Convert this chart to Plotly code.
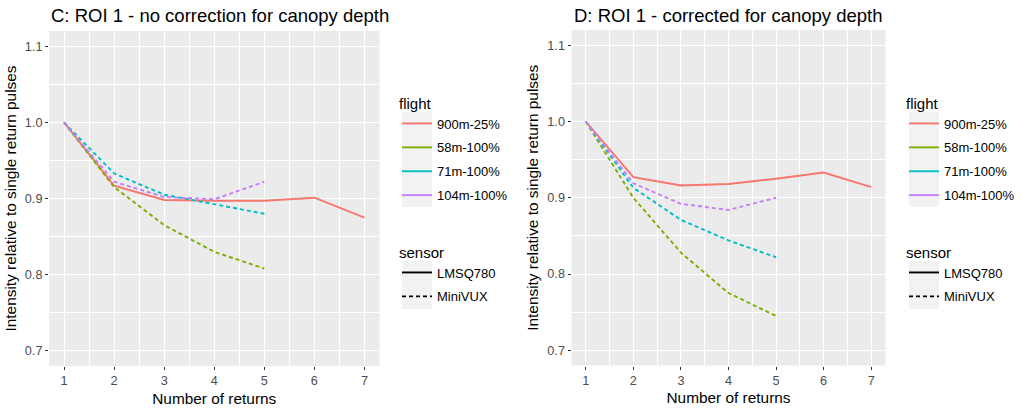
import plotly.graph_objects as go

W, H = 1023, 409

returns_c = [1, 2, 3, 4, 5, 6, 7]
returns_mv = [1, 2, 3, 4, 5]

flights = ["900m-25%", "58m-100%", "71m-100%", "104m-100%"]
sensors = ["LMSQ780", "MiniVUX", "MiniVUX", "MiniVUX"]
sensor_names = ["LMSQ780", "MiniVUX"]
colors = ["#F8766D", "#7CAE00", "#00BFC4", "#C77CFF"]

# Panel C: no correction for canopy depth
c_900 = [1.000, 0.917, 0.898, 0.897, 0.897, 0.901, 0.875]
c_58 = [1.000, 0.915, 0.865, 0.830, 0.808]
c_71 = [1.000, 0.933, 0.905, 0.893, 0.880]
c_104 = [1.000, 0.922, 0.902, 0.899, 0.922]

# Panel D: corrected for canopy depth
d_900 = [1.000, 0.927, 0.916, 0.918, 0.925, 0.933, 0.914]
d_58 = [1.000, 0.900, 0.828, 0.775, 0.745]
d_71 = [1.000, 0.913, 0.871, 0.844, 0.822]
d_104 = [1.000, 0.919, 0.892, 0.884, 0.900]

titles = ["C: ROI 1 - no correction for canopy depth", "D: ROI 1 - corrected for canopy depth"]
x_title = "Number of returns"
y_title = "Intensity relative to single return pulses"
y_ticks = [0.7, 0.8, 0.9, 1.0, 1.1]
y_minor = [0.75, 0.85, 0.95, 1.05]
x_ticks = [1, 2, 3, 4, 5, 6, 7]
x_minor = [1.5, 2.5, 3.5, 4.5, 5.5, 6.5]

FONT = "Liberation Sans, Arial, sans-serif"
DASH = "4px,3px"
LW = 1.9

panels = [
    dict(series=[(returns_c, c_900), (returns_mv, c_58), (returns_mv, c_71), (returns_mv, c_104)],
         px=(49, 379.5), py=(31, 366), legx=397, legs=("legend", "legend2")),
    dict(series=[(returns_c, d_900), (returns_mv, d_58), (returns_mv, d_71), (returns_mv, d_104)],
         px=(571.5, 885.5), py=(30, 365.5), legx=904, legs=("legend3", "legend4")),
]

fig = go.Figure()
layout = dict(
    width=W, height=H, margin=dict(l=0, r=0, t=0, b=0),
    paper_bgcolor="white", plot_bgcolor="#EBEBEB",
    font=dict(family=FONT, color="black"),
    showlegend=True, annotations=[], shapes=[],
)

for i, p in enumerate(panels):
    sfx = "" if i == 0 else str(i + 1)
    xa, ya = "x" + sfx, "y" + sfx
    for k, (xs, ys) in enumerate(p["series"]):
        fig.add_trace(go.Scatter(
            x=xs, y=ys, mode="lines", xaxis=xa, yaxis=ya, showlegend=False,
            line=dict(color=colors[k], width=LW,
                      dash="solid" if sensors[k] == "LMSQ780" else DASH),
            hoverinfo="x+y", name=flights[k]))
    # legend entries: flight
    for k, f in enumerate(flights):
        fig.add_trace(go.Scatter(
            x=[None], y=[None], mode="lines", xaxis=xa, yaxis=ya,
            name=f, legend=p["legs"][0], legendgroup=f"f{i}{k}",
            line=dict(color=colors[k], width=LW)))
    for k, s in enumerate(sensor_names):
        fig.add_trace(go.Scatter(
            x=[None], y=[None], mode="lines", xaxis=xa, yaxis=ya,
            name=s, legend=p["legs"][1], legendgroup=f"s{i}{k}",
            line=dict(color="black", width=LW, dash="solid" if k == 0 else DASH)))

    x0, x1 = p["px"]
    y0, y1 = p["py"]
    layout["xaxis" + sfx] = dict(
        domain=[x0 / W, x1 / W], range=[0.7, 7.3], anchor=ya,
        tickmode="array", tickvals=x_ticks, ticktext=[str(v) for v in x_ticks],
        showgrid=True, gridcolor="white", gridwidth=1.1, zeroline=False,
        minor=dict(tickvals=x_minor, showgrid=True, gridcolor="white", gridwidth=0.5, ticks=""),
        ticks="outside", ticklen=3, tickwidth=1, tickcolor="#333333",
        tickfont=dict(size=12.7, color="#4D4D4D", family=FONT),
        title=dict(text=x_title, font=dict(size=15.4, color="black", family=FONT), standoff=5),
        automargin=False, showline=False,
    )
    layout["yaxis" + sfx] = dict(
        domain=[1 - y1 / H, 1 - y0 / H], range=[0.68, 1.12], anchor=xa,
        tickmode="array", tickvals=y_ticks, ticktext=[f"{v:.1f}" for v in y_ticks],
        showgrid=True, gridcolor="white", gridwidth=1.1, zeroline=False,
        minor=dict(tickvals=y_minor, showgrid=True, gridcolor="white", gridwidth=0.5, ticks=""),
        ticks="outside", ticklen=3, tickwidth=1, tickcolor="#333333",
        tickfont=dict(size=12.7, color="#4D4D4D", family=FONT),
        title=dict(text=y_title, font=dict(size=15.4, color="black", family=FONT), standoff=4),
        automargin=False, showline=False,
    )
    layout["annotations"].append(dict(
        text=titles[i], xref="paper", yref="paper", x=x0 / W, y=1 - 15 / H,
        xanchor="left", yanchor="middle", showarrow=False,
        font=dict(size=18.5, color="black", family=FONT)))
    lx = p["legx"] / W
    for j, (name, ytop) in enumerate([(p["legs"][0], 89), (p["legs"][1], 238)]):
        layout[name] = dict(
            x=lx, y=1 - ytop / H, xanchor="left", yanchor="top",
            bgcolor="rgba(0,0,0,0)", borderwidth=0,
            title=dict(text="flight" if j == 0 else "sensor",
                       font=dict(size=15, color="black", family=FONT)),
            font=dict(size=13, color="black", family=FONT),
            itemwidth=30, tracegroupgap=4, traceorder="grouped",
            itemclick=False, itemdoubleclick=False)
    # light grey legend key backgrounds (ggplot legend.key)
    kx0, kx1 = p["legx"] + 5, p["legx"] + 35
    for (ky0, ky1) in [(112, 207), (261, 309)]:
        layout["shapes"].append(dict(
            type="rect", xref="paper", yref="paper", layer="below",
            x0=kx0 / W, x1=kx1 / W, y0=1 - ky1 / H, y1=1 - ky0 / H,
            fillcolor="#F2F2F2", line=dict(width=0)))

fig.update_layout(**layout)
fig.write_html("out.html")
